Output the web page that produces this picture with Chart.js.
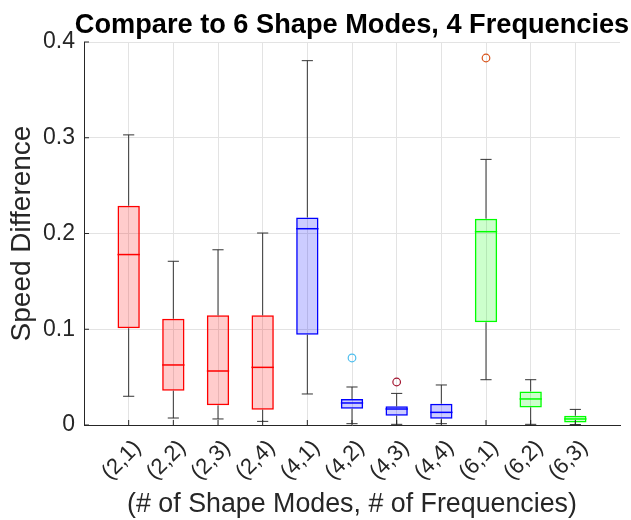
<!DOCTYPE html>
<html>
<head>
<meta charset="utf-8">
<script src="https://cdn.jsdelivr.net/npm/chart.js@4.4.1/dist/chart.umd.min.js"></script>
<style>
  html, body { margin: 0; padding: 0; background: #ffffff; }
  #wrap { width: 631px; height: 520px; position: relative; }
</style>
</head>
<body>
<div id="wrap"><canvas id="c" width="631" height="520"></canvas></div>
<script>
// ---- data ----
const chartTitle = 'Compare to 6 Shape Modes, 4 Frequencies';
const categories = ['(2,1)', '(2,2)', '(2,3)', '(2,4)', '(4,1)', '(4,2)', '(4,3)', '(4,4)', '(6,1)', '(6,2)', '(6,3)'];
const whiskerLow  = [0.030, 0.0073, 0.0063, 0.0038, 0.0324, 0.0014, 0.0007, 0.0014, 0.0473, 0.0007, 0.0005];
const q1          = [0.101, 0.0358, 0.0205, 0.0160, 0.0943, 0.0170, 0.0097, 0.0066, 0.1072, 0.0184, 0.0027];
const medians     = [0.178, 0.0627, 0.0564, 0.0602, 0.2050, 0.0230, 0.0167, 0.0132, 0.2019, 0.0272, 0.0063];
const q3          = [0.229, 0.1110, 0.1145, 0.1145, 0.2168, 0.0272, 0.0195, 0.0222, 0.2155, 0.0351, 0.0097];
const whiskerHigh = [0.303, 0.1710, 0.1830, 0.2005, 0.3805, 0.0397, 0.0330, 0.0418, 0.2774, 0.0473, 0.0163];
const outlierCategory = ['(4,2)', '(4,3)', '(6,1)'];
const outlierValue    = [0.070, 0.0449, 0.3833];
const yTickValues = [0, 0.1, 0.2, 0.3, 0.4];

// ---- styles ----
const groupEdge = { '2': '#ff0000', '4': '#0000ff', '6': '#00ff00' };
const groupFill = { '2': 'rgba(255,0,0,0.2)', '4': 'rgba(0,0,255,0.2)', '6': 'rgba(0,255,0,0.2)' };
const outlierColors = ['#4DBEEE', '#A2142F', '#D95319'];
const groupOf = c => c.charAt(1);
const FONT = "'Liberation Sans', Arial, Helvetica, sans-serif";
const AX = '#262626';

const boxData = categories.map((c, i) => ({ x: i + 1, y: [q1[i], q3[i]] }));
const outData = outlierCategory.map((c, k) => ({ x: categories.indexOf(c) + 1, y: outlierValue[k] }));

const boxPlugin = {
  id: 'boxparts',
  afterDatasetsDraw(chart) {
    const ctx = chart.ctx, xs = chart.scales.x, ys = chart.scales.y;
    const unit = xs.getPixelForValue(1) - xs.getPixelForValue(0);
    ctx.save();
    categories.forEach((c, i) => {
      const cx = xs.getPixelForValue(i + 1);
      ctx.strokeStyle = '#333333';
      ctx.lineWidth = 1;
      ctx.beginPath();
      ctx.moveTo(cx, ys.getPixelForValue(q3[i]));
      ctx.lineTo(cx, ys.getPixelForValue(whiskerHigh[i]));
      ctx.moveTo(cx, ys.getPixelForValue(q1[i]));
      ctx.lineTo(cx, ys.getPixelForValue(whiskerLow[i]));
      const cap = unit * 0.125;
      ctx.moveTo(cx - cap, ys.getPixelForValue(whiskerHigh[i]));
      ctx.lineTo(cx + cap, ys.getPixelForValue(whiskerHigh[i]));
      ctx.moveTo(cx - cap, ys.getPixelForValue(whiskerLow[i]));
      ctx.lineTo(cx + cap, ys.getPixelForValue(whiskerLow[i]));
      ctx.stroke();
      const half = unit * 0.25;
      ctx.strokeStyle = groupEdge[groupOf(c)];
      ctx.lineWidth = 1.5;
      ctx.beginPath();
      ctx.moveTo(cx - half, ys.getPixelForValue(medians[i]));
      ctx.lineTo(cx + half, ys.getPixelForValue(medians[i]));
      ctx.stroke();
    });
    ctx.strokeStyle = AX;
    ctx.lineWidth = 1;
    ctx.beginPath();
    categories.forEach((c, i) => {
      const cx = xs.getPixelForValue(i + 1);
      ctx.moveTo(cx, ys.bottom);
      ctx.lineTo(cx, ys.bottom - 5);
    });
    yTickValues.forEach(v => {
      const py = ys.getPixelForValue(v);
      ctx.moveTo(xs.left, py);
      ctx.lineTo(xs.left + 5, py);
    });
    ctx.stroke();
    // title centred over the plot area
    const ca = chart.chartArea;
    ctx.fillStyle = '#000000';
    ctx.font = "bold 27.2px " + FONT;
    ctx.textAlign = 'center';
    ctx.textBaseline = 'alphabetic';
    ctx.fillText(chartTitle, (ca.left + ca.right) / 2, 32.5);
    ctx.restore();
  }
};

new Chart(document.getElementById('c'), {
  type: 'bar',
  data: {
    datasets: [
      {
        type: 'bar',
        data: boxData,
        backgroundColor: categories.map(c => groupFill[groupOf(c)]),
        borderColor: categories.map(c => groupEdge[groupOf(c)]),
        borderWidth: 1.5,
        borderSkipped: false,
        barPercentage: 0.5,
        categoryPercentage: 1.0,
        order: 2
      },
      {
        type: 'scatter',
        data: outData,
        pointStyle: 'circle',
        pointRadius: 3.8,
        pointBorderWidth: 1.2,
        pointBackgroundColor: 'rgba(0,0,0,0)',
        pointBorderColor: outlierColors,
        order: 1
      }
    ]
  },
  options: {
    responsive: false,
    animation: false,
    layout: { padding: { left: 0, right: 11, top: 42, bottom: 0 } },
    plugins: {
      legend: { display: false },
      tooltip: { enabled: false },
      title: { display: false }
    },
    scales: {
      x: {
        type: 'linear',
        min: 0, max: 12,
        offset: false,
        afterBuildTicks(scale) {
          const t = [{ value: 0 }];
          categories.forEach((c, i) => t.push({ value: i + 1 }));
          t.push({ value: 12 });
          scale.ticks = t;
        },
        afterFit(scale) {
          scale.height = 95;
          scale.paddingLeft = 0;
          scale.paddingRight = 0;
        },
        ticks: {
          autoSkip: false,
          minRotation: 45, maxRotation: 45,
          color: AX,
          padding: 10,
          labelOffset: 9,
          font: { family: FONT, size: 22 },
          callback: v => (v >= 1 && v <= categories.length) ? categories[v - 1] : ''
        },
        grid: {
          offset: false,
          drawTicks: false,
          color: ctx => (ctx.tick && (ctx.tick.value === 0 || ctx.tick.value === 12)) ? 'rgba(0,0,0,0)' : '#e3e3e3',
          lineWidth: 1
        },
        border: { display: true, color: AX, width: 1 },
        title: {
          display: true,
          text: '(# of Shape Modes, # of Frequencies)',
          color: AX,
          font: { family: FONT, size: 26.8, lineHeight: 1.0 },
          padding: { top: 0, bottom: 1.5 }
        }
      },
      y: {
        type: 'linear',
        min: 0, max: 0.4,
        afterBuildTicks(scale) { scale.ticks = yTickValues.map(v => ({ value: v })); },
        afterFit(scale) { scale.width = 84; },
        ticks: {
          color: AX,
          padding: 9,
          font: { family: FONT, size: 23 },
          callback: v => v === 0 ? '0' : Number(v).toFixed(1)
        },
        grid: { drawTicks: false, color: '#e3e3e3', lineWidth: 1 },
        border: { display: true, color: AX, width: 1 },
        title: {
          display: true,
          text: 'Speed Difference',
          color: AX,
          font: { family: FONT, size: 28, lineHeight: 1.0 },
          padding: { top: 8.5, bottom: 0 }
        }
      }
    }
  },
  plugins: [boxPlugin]
});
</script>
</body>
</html>
